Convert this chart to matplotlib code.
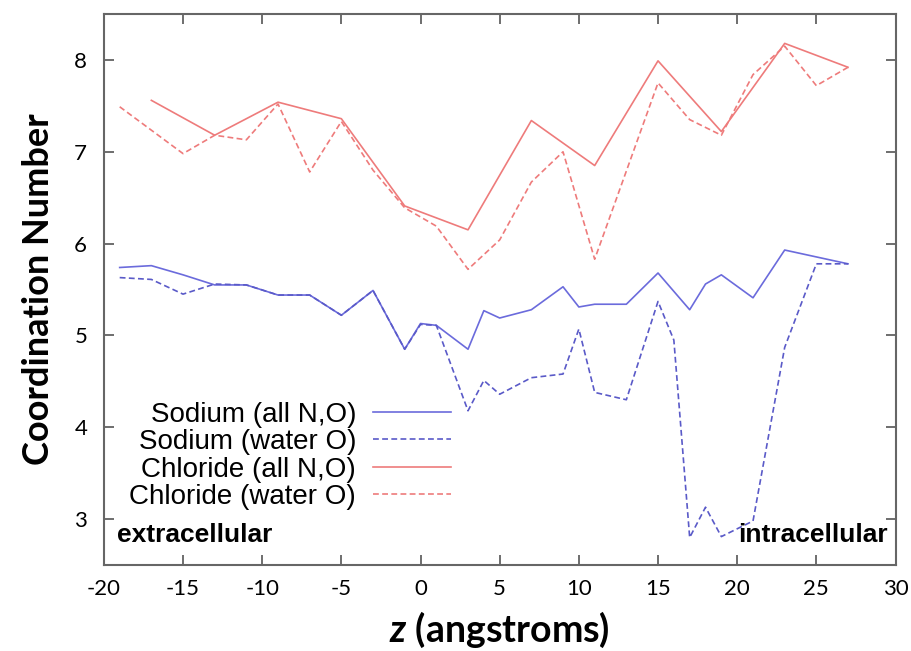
import numpy as np
import matplotlib
matplotlib.use("Agg")
import matplotlib.pyplot as plt

plt.rcParams["axes.unicode_minus"] = False
plt.rcParams["mathtext.fontset"] = "custom"
plt.rcParams["mathtext.bfit"] = "Lato:bold:italic"
plt.rcParams["mathtext.it"] = "Lato:bold:italic"

# Sodium, all N,O
na_all_z = [-19, -17, -15, -13, -11, -9, -7, -5, -3, -1, 0, 1, 3, 4, 5, 7, 9, 10, 11, 13, 15, 17, 18, 19, 21, 23, 27]
na_all = [5.74, 5.76, 5.66, 5.55, 5.55, 5.44, 5.44, 5.22, 5.49, 4.85, 5.13, 5.11, 4.85, 5.27, 5.19, 5.28, 5.53, 5.31, 5.34, 5.34, 5.68, 5.28, 5.56, 5.66, 5.41, 5.93, 5.78]

# Sodium, water O
na_wat_z = [-19, -17, -15, -13, -11, -9, -7, -5, -3, -1, 0, 1, 3, 4, 5, 7, 9, 10, 11, 13, 15, 16, 17, 18, 19, 21, 23, 25, 27]
na_wat = [5.63, 5.61, 5.45, 5.56, 5.55, 5.44, 5.44, 5.22, 5.49, 4.85, 5.12, 5.11, 4.18, 4.51, 4.36, 4.54, 4.58, 5.07, 4.38, 4.30, 5.37, 4.95, 2.80, 3.13, 2.81, 2.98, 4.87, 5.78, 5.78]

# Chloride, all N,O
cl_all_z = [-17, -13, -9, -5, -1, 3, 7, 11, 15, 19, 23, 27]
cl_all = [7.56, 7.18, 7.54, 7.36, 6.41, 6.15, 7.34, 6.85, 7.99, 7.22, 8.18, 7.92]

# Chloride, water O
cl_wat_z = [-19, -15, -13, -11, -9, -7, -5, -3, -1, 1, 3, 5, 7, 9, 11, 15, 17, 19, 21, 23, 25, 27]
cl_wat = [7.49, 6.98, 7.18, 7.13, 7.52, 6.78, 7.33, 6.80, 6.39, 6.19, 5.72, 6.04, 6.67, 7.00, 5.83, 7.75, 7.35, 7.18, 7.84, 8.15, 7.72, 7.92]

xticks = [-20, -15, -10, -5, 0, 5, 10, 15, 20, 25, 30]
yticks = [3, 4, 5, 6, 7, 8]

fig = plt.figure(figsize=(9.11, 6.51), dpi=100)
ax = fig.add_axes([0.114, 0.132, 0.869, 0.8465])

blue = "#6b6bdc"
red = "#ee7b7b"
ax.plot(na_all_z, na_all, color=blue, lw=1.2, label="Sodium (all N,O)")
ax.plot(na_wat_z, na_wat, color="#5a5ac8", lw=1.2, ls=(0, (3.5, 2)), label="Sodium (water O)")
ax.plot(cl_all_z, cl_all, color=red, lw=1.2, label="Chloride (all N,O)")
ax.plot(cl_wat_z, cl_wat, color=red, lw=1.2, ls=(0, (3.5, 2)), label="Chloride (water O)")

ax.set_xlim(-20, 30)
ax.set_ylim(2.5, 8.5)
ax.set_xticks(xticks)
ax.set_yticks(yticks)
ax.tick_params(direction="in", length=7, width=1.2, color="#555555",
               top=True, right=True)
ax.tick_params(axis="x", pad=10)
ax.tick_params(axis="y", pad=12)
for lab in ax.get_xticklabels():
    lab.set_fontfamily("Lato")
    lab.set_fontsize(16)
for lab in ax.get_yticklabels():
    lab.set_fontfamily("Lato")
    lab.set_fontsize(16)
for s in ax.spines.values():
    s.set_color("#666666")
    s.set_linewidth(1.5)

ax.set_xlabel(r"$\mathbfit{z}$ (angstroms)", fontsize=27, fontweight="bold",
              fontfamily="Lato", labelpad=8)
ax.set_ylabel("Coordination Number", fontsize=26, fontweight="bold",
              fontfamily="Lato", labelpad=14)

leg = ax.legend(loc="lower right", bbox_to_anchor=(0.438, 0.10), frameon=False,
                markerfirst=False, handlelength=2.8, handletextpad=0.6,
                labelspacing=0.05, borderpad=0, borderaxespad=0,
                prop={"family": "Liberation Sans", "size": 20})

ax.text(0.017, 0.033, "extracellular", transform=ax.transAxes, fontsize=19,
        fontweight="bold", fontfamily="Liberation Sans", ha="left", va="bottom")
ax.text(0.99, 0.033, "intracellular", transform=ax.transAxes, fontsize=19,
        fontweight="bold", fontfamily="Liberation Sans", ha="right", va="bottom")

fig.savefig("out.png", dpi=100)
